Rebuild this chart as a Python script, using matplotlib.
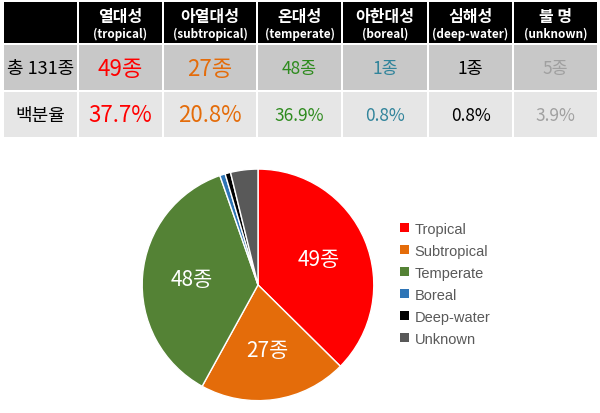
import matplotlib.pyplot as plt
from matplotlib.patches import Rectangle, Patch

plt.rcParams['font.family'] = ['Noto Sans CJK KR', 'DejaVu Sans']

# data
zones_kr = ['열대성', '아열대성', '온대성', '아한대성', '심해성', '불 명']
zones_en = ['(tropical)', '(subtropical)', '(temperate)', '(boreal)', '(deep-water)', '(unknown)']
legend_labels = ['Tropical', 'Subtropical', 'Temperate', 'Boreal', 'Deep-water', 'Unknown']
counts = [49, 27, 48, 1, 1, 5]
percents = [37.7, 20.8, 36.9, 0.8, 0.8, 3.9]
total_label = '총 131종'
pct_label = '백분율'

pie_colors = ['#FF0000', '#E46C0A', '#548235', '#2E75B6', '#000000', '#595959']
text_colors = ['#FF0000', '#E46C0A', '#2E8B1E', '#31849B', '#000000', '#A0A0A0']
text_sizes = [16, 16, 12.5, 12.5, 12.5, 12.5]

fig = plt.figure(figsize=(6, 4.14), dpi=100)

# table drawn in pixel coordinates
tax = fig.add_axes([0, 0, 1, 1])
tax.set_xlim(0, 600)
tax.set_ylim(414, 0)
tax.axis('off')

col_edges = [3, 78, 163, 257, 342, 428, 513, 598]
row_edges = [(3, 44), (46, 91), (93, 138)]
row_colors = ['#000000', '#C8C8C8', '#E6E6E6']

for r, (y0, y1) in enumerate(row_edges):
    for c in range(len(col_edges) - 1):
        x0, x1 = col_edges[c], col_edges[c + 1]
        tax.add_patch(Rectangle((x0 + 1, y0), x1 - x0 - 2, y1 - y0,
                                facecolor=row_colors[r], edgecolor='none'))

# header
for i in range(len(zones_kr)):
    xc = (col_edges[i + 1] + col_edges[i + 2]) / 2
    tax.text(xc, 17, zones_kr[i], color='white', fontsize=11.5, fontweight='bold',
             ha='center', va='center')
    tax.text(xc, 34, zones_en[i], color='white', fontsize=8.5, fontweight='bold',
             ha='center', va='center')

# rows
first_x = (col_edges[0] + col_edges[1]) / 2
tax.text(first_x, 69, total_label, fontsize=13, ha='center', va='center')
tax.text(first_x, 116, pct_label, fontsize=13, ha='center', va='center')
for i in range(len(counts)):
    xc = (col_edges[i + 1] + col_edges[i + 2]) / 2
    tax.text(xc, 69, f'{counts[i]}종', color=text_colors[i], fontsize=text_sizes[i],
             ha='center', va='center')
    tax.text(xc, 116, f'{percents[i]}%', color=text_colors[i], fontsize=text_sizes[i],
             ha='center', va='center')

# pie
pax = fig.add_axes([0.235, 0.027, 0.39, 0.565])
wedges, _, autotexts = pax.pie(
    counts, colors=pie_colors, startangle=90, counterclock=False,
    wedgeprops=dict(edgecolor='white', linewidth=1),
    autopct=lambda p: f'{round(p * sum(counts) / 100)}종' if p > 10 else '',
    pctdistance=0.57,
    textprops=dict(color='white', fontsize=15, fontweight='medium'))
pax.set_xlim(-1.01, 1.01)
pax.set_ylim(-1.01, 1.01)
pax.set_aspect('equal')

fig.legend(handles=[Patch(facecolor=c, edgecolor='none') for c in pie_colors],
           labels=legend_labels, loc='upper left', bbox_to_anchor=(0.645, 0.494),
           frameon=False, handlelength=0.6, handleheight=0.6,
           handletextpad=0.4, labelspacing=0.55, labelcolor='#595959',
           prop=dict(family='Liberation Sans', size=10.5))

fig.savefig('out.png', dpi=100)
